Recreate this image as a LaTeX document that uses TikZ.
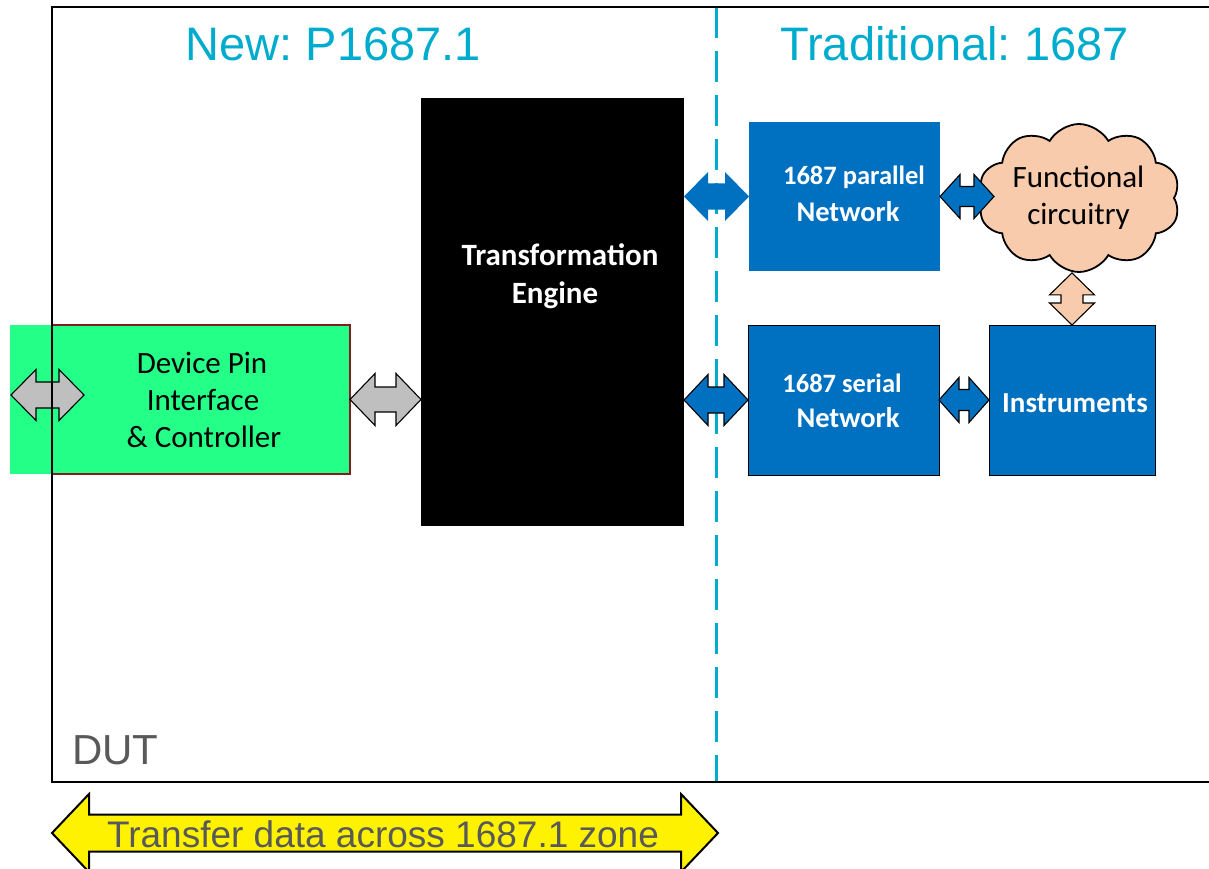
\documentclass[tikz,border=0pt]{standalone}
\usepackage{fontspec}
\setmainfont{Carlito}
\newfontfamily\arialfont{Liberation Sans}
\usetikzlibrary{shapes.symbols,calc}
\frenchspacing

\definecolor{zonecyan}{RGB}{0,172,206}
\definecolor{pingreen}{RGB}{36,255,136}
\definecolor{pinborder}{RGB}{128,30,30}
\definecolor{netblue}{RGB}{0,112,192}
\definecolor{peach}{RGB}{248,203,173}
\definecolor{arrowgray}{RGB}{191,191,191}
\definecolor{labelgray}{RGB}{89,89,89}

% fat double-headed arrow from #2 to #3:
% #4 = half shaft width, #5 = half head width, #6 = head length
\newcommand\dblarrowpath[6]{%
  \path[#1] let \p1=#2, \p2=#3,
    \n1={atan2(\y2-\y1,\x2-\x1)},
    \n2={veclen(\x2-\x1,\y2-\y1)} in
    [shift={(\x1,\y1)}, rotate=\n1]
    (0,0) -- (#6,#5) -- (#6,#4) -- (\n2-#6,#4) -- (\n2-#6,#5) -- (\n2,0)
    -- (\n2-#6,-#5) -- (\n2-#6,-#4) -- (#6,-#4) -- (#6,-#5) -- cycle;}

\begin{document}
\begin{tikzpicture}[x=1pt,y=-1pt,
  box/.style={rectangle, inner sep=0pt, outer sep=0pt},
  netbox/.style={box, fill=netblue},
  netframe/.style={draw=black, line width=1pt},
  boxtext/.style={inner sep=0pt, anchor=base, text=white, font=\bfseries\fontsize{#1}{#1}\selectfont},
  plaintext/.style={inner sep=0pt, anchor=base, text=black, font=\fontsize{31}{31}\selectfont},
  title/.style={inner sep=0pt, anchor=base, text=zonecyan, font=\arialfont\fontsize{47}{47}\selectfont},
  grayarrow/.style={fill=arrowgray, draw=black, line width=1.1pt, line join=miter},
  bluearrow/.style={fill=netblue, draw=black, line width=1.1pt, line join=miter},
  bluearrowplain/.style={fill=netblue},
  peacharrow/.style={fill=peach, draw=black, line width=1.1pt, line join=miter},
  yellowarrow/.style={fill=yellow, draw=black, line width=2pt, line join=miter},
  zoneline/.style={draw=zonecyan, line width=3pt, dash pattern=on 31pt off 13pt},
  dutframe/.style={draw=black, line width=2.5pt}]

\useasboundingbox (0,0) rectangle (1209,869);
\clip (0,0) rectangle (1209,869);

% pin interface block, spilling past the device boundary
\fill[pingreen] (10,325) rectangle (53,474);
\node[box, fill=pingreen, minimum width=298pt, minimum height=149pt] (green) at (201,399.5) {};
\draw[pinborder, line width=1.5pt] (52,325) -- (green.north east) -- (green.south east) -- (52,474);

% transformation engine
\node[box, fill=black, minimum width=263pt, minimum height=428pt] (black) at (552.5,312) {};

% zone separator
\draw[zoneline] (716,7) -- (716,782);

% 1687 side
\node[netbox, minimum width=191pt, minimum height=149pt] (par) at (844.5,196.5) {};
\node[netbox, netframe, minimum width=191pt, minimum height=150pt] (ser) at (843.5,400) {};
\node[netbox, netframe, minimum width=166pt, minimum height=150pt] (inst) at (1072,400) {};
\node[cloud, cloud puffs=10, cloud puff arc=120, cloud ignores aspect,
      minimum width=202pt, minimum height=148pt, draw=black, line width=1.8pt,
      fill=peach, inner sep=0pt] (cloud) at (1079,198) {};

% connectors
\coordinate (pinL) at (11,395);
\coordinate (pinR) at (84,395);
\dblarrowpath{grayarrow}{(pinL)}{(pinR)}{13}{25.5}{25}
\dblarrowpath{grayarrow}{(green.east)}{(green.east -| black.west)}{12.5}{26}{25}
\dblarrowpath{bluearrowplain}{(par.west -| black.east)}{(par.west)}{13}{24.5}{24}
\dblarrowpath{bluearrow}{(ser.west -| black.east)}{(ser.west)}{13}{25.5}{24}
\dblarrowpath{bluearrow}{(par.east)}{($(par.east -| cloud.west)+(11,0)$)}{10}{22}{20}
\dblarrowpath{bluearrow}{(ser.east)}{(inst.west)}{10.5}{22.5}{20}
\dblarrowpath{peacharrow}{(inst.north |- cloud.south)}{(inst.north)}{11}{22.5}{22}

% block labels
\node[plaintext] (gt1) at (202,373) {Device Pin};
\node[plaintext] (gt2) at (203,410) {Interface};
\node[plaintext] (gt3) at (204,447) {\& Controller};
\node[boxtext=31] (bt1) at (560,265) {Transformation};
\node[boxtext=31] (bt2) at (555,303) {Engine};
\node[boxtext=26.5] (pt1) at (854,185) {1687 parallel};
\node[boxtext=28.5] (pt2) at (848,221) {Network};
\node[boxtext=26.5] (st1) at (842,392) {1687 serial};
\node[boxtext=28.5] (st2) at (848,427) {Network};
\node[boxtext=29] (it1) at (1075,412) {Instruments};
\node[plaintext] (ct1) at (1078.5,187) {Functional};
\node[plaintext] (ct2) at (1078.5,224) {circuitry};

% device boundary
\draw[dutframe] (52,7) rectangle (1240,782);

% headings
\node[title] (newt) at (333.5,61) {New: P1687.1};
\node[title] (oldt) at (954.5,61) {Traditional: 1687};
\node[inner sep=0pt, anchor=base, text=labelgray, font=\arialfont\fontsize{42}{42}\selectfont] (dut) at (115.5,764) {DUT};

% span of the 1687.1 zone
\coordinate (zoneL) at (52,833);
\coordinate (zoneR) at (718,833);
\dblarrowpath{yellowarrow}{(zoneL)}{(zoneR)}{18.5}{39}{37}
\node[inner sep=0pt, anchor=base, text=labelgray, font=\arialfont\fontsize{37}{37}\selectfont] (zonet) at (383,847) {Transfer data across 1687.1 zone};

\end{tikzpicture}
\end{document}
